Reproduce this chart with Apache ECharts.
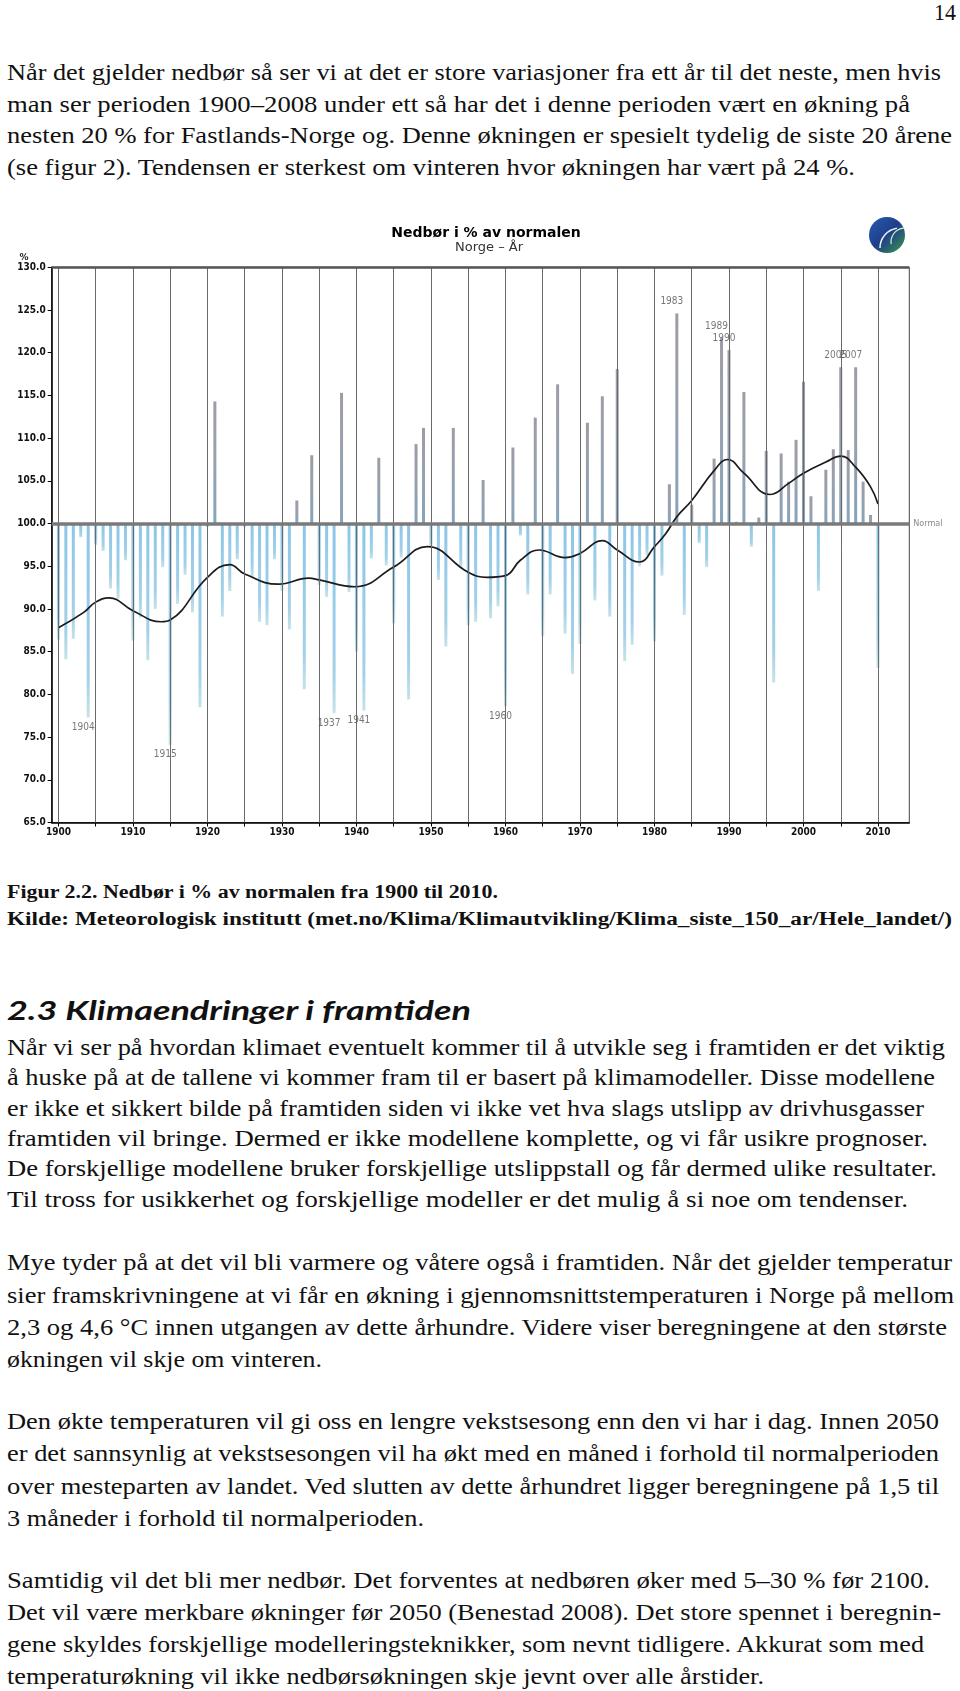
<!DOCTYPE html>
<html><head><meta charset="utf-8">
<script src="https://cdn.jsdelivr.net/npm/echarts@6/dist/echarts.min.js"></script>
<style>
html,body{margin:0;padding:0;background:#fff;}
#page{position:relative;width:960px;height:1691px;overflow:hidden;background:#fff;}
#txt{position:absolute;left:0;top:0;}
#chart{position:absolute;left:0;top:200px;width:960px;height:650px;}
</style></head><body>
<div id="page"><svg id="txt" width="960" height="1691" xmlns="http://www.w3.org/2000/svg"></svg><div id="chart"></div></div>
<script>
// ---------- DATA ----------
const years = Array.from({length: 111}, (_, i) => 1900 + i);   // 1900 .. 2010
const precipitation = [
  86.4, 84.1, 86.5, 98.4, 77.3, 97.5, 96.8, 92.4, 91.2, 95.7,      // 1900-1909
  86.3, 89.0, 84.0, 90.0, 94.9, 74.1, 90.6, 94.0, 89.6, 78.5,      // 1910-1919
  99.6, 114.3, 89.1, 92.1, 95.8, 99.6, 93.7, 88.5, 88.1, 95.8,     // 1920-1929
  92.1, 87.6, 102.7, 80.6, 108.0, 92.8, 91.4, 77.8, 115.3, 92.0,   // 1930-1939
  85.0, 78.1, 95.9, 107.7, 95.1, 88.3, 96.0, 79.4, 109.3, 111.2,   // 1940-1949
  97.2, 93.4, 85.6, 111.2, 94.8, 88.1, 88.5, 105.1, 88.9, 90.3,    // 1950-1959
  78.6, 108.9, 98.6, 91.7, 112.4, 86.8, 91.7, 116.3, 87.1, 82.4,   // 1960-1969
  85.9, 111.8, 91.0, 114.9, 89.1, 118.1, 83.9, 85.8, 95.0, 96.3,   // 1970-1979
  86.2, 93.9, 104.6, 124.6, 89.3, 102.2, 97.7, 94.9, 107.6, 121.7, // 1980-1989
  120.3, 100.2, 115.4, 97.3, 100.7, 108.5, 81.4, 108.2, 104.9, 109.8, // 1990-1999
  116.6, 103.2, 92.1, 106.3, 108.7, 118.3, 108.6, 118.3, 104.9, 101.0, // 2000-2009
  83.1                                                              // 2010
];
// smoothed curve, read at points along the picture
const trendYears  = [1900, 1903.4, 1905, 1906.8, 1910, 1913.8, 1915, 1920, 1923, 1925, 1929.5, 1933.6, 1935, 1939.8, 1945, 1949.5, 1955, 1957.5, 1960, 1962, 1964.5, 1968, 1970, 1973, 1975, 1978, 1980, 1981.5, 1983, 1985, 1988, 1989.8, 1992, 1995.5, 1998, 2000, 2003, 2005, 2007, 2009, 2010];
const trendValues = [87.8, 89.6, 90.8, 91.3, 89.8, 88.5, 88.7, 93.7, 95.2, 94.1, 92.9, 93.6, 93.4, 92.6, 94.9, 97.3, 94.3, 93.7, 93.9, 95.7, 96.9, 96.0, 96.5, 98.0, 96.9, 95.5, 97.3, 98.8, 100.8, 102.7, 106.2, 107.5, 105.9, 103.4, 104.7, 105.9, 107.2, 107.9, 106.6, 104.3, 102.3];
const labelYearsBelow = [1904, 1915, 1937, 1941, 1960];
const labelYearsAbove = [1983, 1989, 1990, 2005, 2007];
const xLabelYears = [1900, 1910, 1920, 1930, 1940, 1950, 1960, 1970, 1980, 1990, 2000, 2010];
const gridYears   = [1900, 1905, 1910, 1915, 1920, 1925, 1930, 1935, 1940, 1945, 1950, 1955, 1960, 1965, 1970, 1975, 1980, 1985, 1990, 1995, 2000, 2005, 2010];
const normalValue = 100;

// ---------- PAGE TEXT ----------
const NS = 'http://www.w3.org/2000/svg';
const svg = document.getElementById('txt');
const bodyStyle = "font-family:'Liberation Serif','DejaVu Serif',serif;font-size:22.5px;fill:#111;";
const capStyle  = "font-family:'Liberation Serif','DejaVu Serif',serif;font-size:18px;font-weight:bold;fill:#111;";
const headStyle = "font-family:Lato,'Open Sans','DejaVu Sans',sans-serif;font-size:27px;font-weight:bold;font-style:italic;fill:#111;";
const lines = [
  ['14', 934, 19.5, 22, bodyStyle],
  ['Når det gjelder nedbør så ser vi at det er store variasjoner fra ett år til det neste, men hvis', 7, 80, 934, bodyStyle],
  ['man ser perioden 1900–2008 under ett så har det i denne perioden vært en økning på', 7, 111.7, 903, bodyStyle],
  ['nesten 20 % for Fastlands-Norge og. Denne økningen er spesielt tydelig de siste 20 årene', 7, 143.3, 945, bodyStyle],
  ['(se figur 2). Tendensen er sterkest om vinteren hvor økningen har vært på 24 %.', 7, 175, 848, bodyStyle],
  ['Figur 2.2. Nedbør i % av normalen fra 1900 til 2010.', 7, 898, 491, capStyle],
  ['Kilde: Meteorologisk institutt (met.no/Klima/Klimautvikling/Klima_siste_150_ar/Hele_landet/)', 7, 925, 945, capStyle],
  ['2.3 Klimaendringer i framtiden', 7, 1020, 464, headStyle],
  ['Når vi ser på hvordan klimaet eventuelt kommer til å utvikle seg i framtiden er det viktig', 7, 1054.6, 938, bodyStyle],
  ['å huske på at de tallene vi kommer fram til er basert på klimamodeller. Disse modellene', 7, 1084.8, 928, bodyStyle],
  ['er ikke et sikkert bilde på framtiden siden vi ikke vet hva slags utslipp av drivhusgasser', 7, 1116, 917, bodyStyle],
  ['framtiden vil bringe. Dermed er ikke modellene komplette, og vi får usikre prognoser.', 7, 1146.3, 921, bodyStyle],
  ['De forskjellige modellene bruker forskjellige utslippstall og får dermed ulike resultater.', 7, 1176.4, 930, bodyStyle],
  ['Til tross for usikkerhet og forskjellige modeller er det mulig å si noe om tendenser.', 7, 1206.7, 901, bodyStyle],
  ['Mye tyder på at det vil bli varmere og våtere også i framtiden. Når det gjelder temperatur', 7, 1270.3, 945, bodyStyle],
  ['sier framskrivningene at vi får en økning i gjennomsnittstemperaturen i Norge på mellom', 7, 1302.7, 947, bodyStyle],
  ['2,3 og 4,6 °C innen utgangen av dette århundre. Videre viser beregningene at den største', 7, 1335, 940, bodyStyle],
  ['økningen vil skje om vinteren.', 7, 1367.4, 315, bodyStyle],
  ['Den økte temperaturen vil gi oss en lengre vekstsesong enn den vi har i dag. Innen 2050', 7, 1428.9, 932, bodyStyle],
  ['er det sannsynlig at vekstsesongen vil ha økt med en måned i forhold til normalperioden', 7, 1461.2, 932, bodyStyle],
  ['over mesteparten av landet. Ved slutten av dette århundret ligger beregningene på 1,5 til', 7, 1493.6, 932, bodyStyle],
  ['3 måneder i forhold til normalperioden.', 7, 1526, 417, bodyStyle],
  ['Samtidig vil det bli mer nedbør. Det forventes at nedbøren øker med 5–30 % før 2100.', 7, 1587.5, 923, bodyStyle],
  ['Det vil være merkbare økninger før 2050 (Benestad 2008). Det store spennet i beregnin-', 7, 1619.8, 934, bodyStyle],
  ['gene skyldes forskjellige modelleringsteknikker, som nevnt tidligere. Akkurat som med', 7, 1652.2, 917, bodyStyle],
  ['temperaturøkning vil ikke nedbørsøkningen skje jevnt over alle årstider.', 7, 1683.5, 757, bodyStyle]
];
lines.forEach(([s, x, y, w, st]) => {
  const t = document.createElementNS(NS, 'text');
  t.setAttribute('x', x); t.setAttribute('y', y);
  t.setAttribute('textLength', w); t.setAttribute('lengthAdjust', 'spacingAndGlyphs');
  t.setAttribute('style', st);
  t.textContent = s;
  svg.appendChild(t);
});

// ---------- CHART ----------
const chart = echarts.init(document.getElementById('chart'), null, {renderer: 'canvas'});
const posGrad = new echarts.graphic.LinearGradient(0, 0, 0, 1, [
  {offset: 0, color: '#9d9ca6'}, {offset: 0.45, color: '#97a1ae'}, {offset: 1, color: '#86a4bc'}]);
const negGrad = new echarts.graphic.LinearGradient(0, 0, 0, 1, [
  {offset: 0, color: '#8cc6e6'}, {offset: 0.8, color: '#a3d1e9'}, {offset: 1, color: '#c6e3e6'}]);
const barData = years.map((y, i) => ({
  value: [y, +(precipitation[i] - normalValue).toFixed(2)],
  itemStyle: {color: precipitation[i] >= normalValue ? posGrad : negGrad}
}));
const trendData = trendYears.map((y, i) => [y, +(trendValues[i] - normalValue).toFixed(2)]);
const lblFont = "'DejaVu Sans Condensed','DejaVu Sans',sans-serif";
const labelData = [
  ...labelYearsBelow.map(y => ({value: [y, precipitation[y - 1900] - normalValue],
     label: {show: true, position: 'bottom', distance: 5, formatter: String(y)}})),
  ...labelYearsAbove.map(y => ({value: [y, precipitation[y - 1900] - normalValue],
     label: {show: true, position: 'top', distance: 7, formatter: String(y)}}))
];

const option = {
  animation: false,
  backgroundColor: 'transparent',
  grid: {left: 51.7, right: 50.7, top: 67.3, height: 555.2, containLabel: false, outerBoundsMode: 'none',
         show: true, borderColor: '#444', borderWidth: 1, backgroundColor: 'transparent'},
  xAxis: {
    type: 'value', min: 1899.1, max: 2014.2,
    axisLine: {show: true, onZero: false, lineStyle: {color: '#000', width: 1.5}},
    axisTick: {show: true, customValues: gridYears, length: 4, lineStyle: {color: '#000'}},
    axisLabel: {customValues: xLabelYears, formatter: v => String(Math.round(v)), fontSize: 10, color: '#111', margin: 5, fontFamily: lblFont, fontWeight: 'bold'},
    splitLine: {show: false}
  },
  yAxis: {
    type: 'value', min: -35, max: 30, interval: 5,
    axisLine: {show: true, onZero: false, lineStyle: {color: '#000', width: 1.5}},
    axisTick: {show: true, length: 4, lineStyle: {color: '#000'}},
    axisLabel: {formatter: v => (v + normalValue).toFixed(1), fontSize: 10, color: '#111', margin: 6, fontFamily: lblFont, fontWeight: 'bold'},
    splitLine: {show: false}
  },
  graphic: [
    {type: 'text', x: 486, y: 33, style: {text: 'Nedbør i % av normalen', align: 'center', verticalAlign: 'middle',
      font: "bold 14px 'DejaVu Sans', sans-serif", fill: '#000'}},
    {type: 'text', x: 489, y: 47.5, style: {text: 'Norge – År', align: 'center', verticalAlign: 'middle',
      font: "13px 'DejaVu Sans', sans-serif", fill: '#333'}},
    {type: 'text', x: 24, y: 58, style: {text: '%', align: 'center', verticalAlign: 'middle',
      font: "bold 9px 'DejaVu Sans', sans-serif", fill: '#222'}},
    {type: 'circle', shape: {cx: 887, cy: 35, r: 18}, style: {
      fill: new echarts.graphic.LinearGradient(0, 0, 1, 1, [
        {offset: 0, color: '#2a5bb0'}, {offset: 0.5, color: '#1e3f8a'}, {offset: 1, color: '#3a9a44'}])}},
    {type: 'arc', shape: {cx: 900, cy: 48, r: 20, startAngle: Math.PI * 1.0, endAngle: Math.PI * 1.45},
      style: {stroke: '#e8f3e8', lineWidth: 1.5, fill: null}},
    {type: 'arc', shape: {cx: 905, cy: 42, r: 14, startAngle: Math.PI * 0.95, endAngle: Math.PI * 1.5},
      style: {stroke: '#d8efd8', lineWidth: 1.2, fill: null}}
  ],
  series: [
    {
      type: 'bar', data: barData, barWidth: 3, z: 2,
      markLine: {
        silent: true, symbol: ['none', 'none'], animation: false,
        data: [
          ...gridYears.map(y => ({xAxis: y, lineStyle: {color: '#6a6a6a', width: 1, type: 'solid'}, label: {show: false}})),
          {yAxis: 30, lineStyle: {color: '#555', width: 2.5, type: 'solid'}, label: {show: false}},
          {yAxis: 0, lineStyle: {color: '#7a7a7a', width: 3.5, type: 'solid'},
           label: {show: true, position: 'end', formatter: 'Normal', color: '#8a8a8a', fontSize: 9, fontFamily: lblFont, distance: 4}}
        ]
      }
    },
    {
      type: 'line', data: trendData, smooth: 0.45, showSymbol: false, z: 4,
      lineStyle: {color: '#1b1b1b', width: 1.7}
    },
    {
      type: 'scatter', data: labelData, symbolSize: 0, z: 5,
      label: {show: true, color: '#555', fontSize: 10, fontFamily: lblFont, offset: [-5, 0]}
    }
  ]
};
chart.setOption(option);
</script>
</body></html>
